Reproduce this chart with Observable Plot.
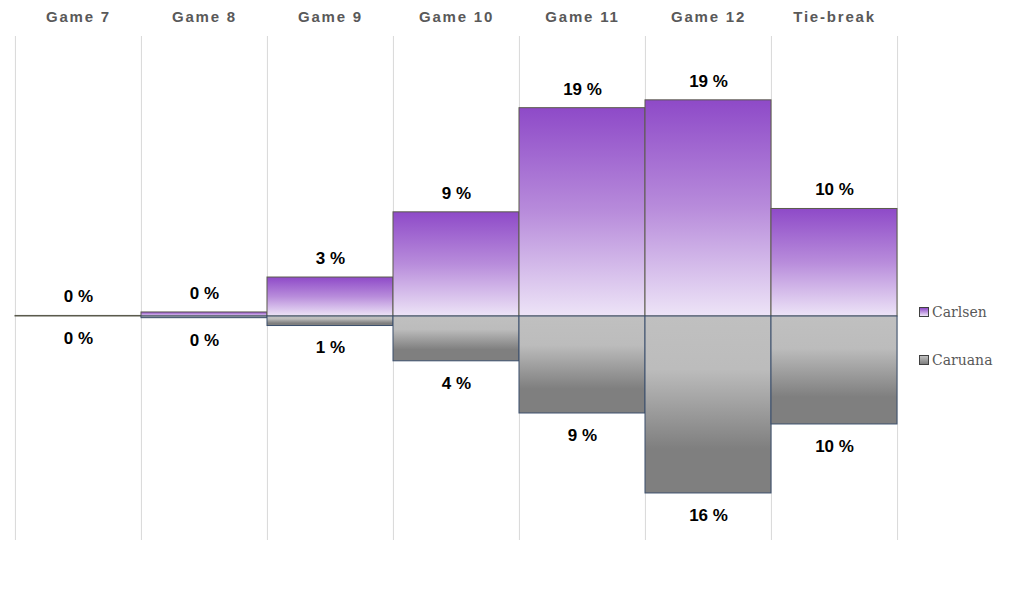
<!DOCTYPE html>
<html>
<head>
<meta charset="utf-8">
<script src="https://cdn.jsdelivr.net/npm/d3@7"></script>
<script src="https://cdn.jsdelivr.net/npm/@observablehq/plot@0.6"></script>
<style>
  html, body { margin: 0; padding: 0; background: #fff; }
  #wrap { position: relative; width: 1013px; height: 600px; }
  .legend { position: absolute; left: 919px; font-family: "DejaVu Serif", "Liberation Serif", serif; font-size: 14px; color: #595959; display: flex; align-items: center; }
  .legend .sw { width: 8px; height: 8px; margin-right: 3px; border: 1px solid #404040; }
</style>
</head>
<body>
<div id="wrap"></div>
<script>
const games = ["Game 7", "Game 8", "Game 9", "Game 10", "Game 11", "Game 12", "Tie-break"];
const carlsen = [0.05, 0.36, 3.48, 9.3, 18.6, 19.3, 9.6];
const caruana = [0, 0.15, 0.85, 4.0, 8.66, 15.8, 9.64];
const seriesNames = ["Carlsen", "Caruana"];

const data = games.map((g, i) => ({game: g, carlsen: carlsen[i], caruana: -caruana[i]}));

const W = 1013, mL = 14, mR = 116;
const bw = (W - mL - mR) / games.length;

const chart = Plot.plot({
  width: W,
  height: 600,
  marginTop: 36,
  marginBottom: 60,
  marginLeft: mL,
  marginRight: mR,
  style: {background: "#fff", fontFamily: "'Liberation Sans', Arial, sans-serif"},
  x: {domain: games, padding: 0, axis: null},
  y: {domain: [-20, 25], axis: null},
  marks: [
    Plot.ruleX(games, {x: d => d, dx: -bw / 2, y1: -20, y2: 25, stroke: "#d9d9d9", strokeWidth: 1}),
    Plot.ruleX([games[games.length - 1]], {x: d => d, dx: bw / 2, y1: -20, y2: 25, stroke: "#d9d9d9", strokeWidth: 1}),
    Plot.barY(data, {x: "game", y1: 0, y2: "carlsen", fill: "url(#gradPurple)", stroke: "#5a5a4c", strokeWidth: 1}),
    Plot.barY(data, {x: "game", y1: 0, y2: "caruana", fill: "url(#gradGray)", stroke: "#3b4f6c", strokeWidth: 1}),
    Plot.text(games, {x: d => d, frameAnchor: "top", dy: -25, dx: 0, text: d => d, fontSize: 15, fontWeight: "bold", fill: "#595959"}),
    Plot.text(data, {x: "game", y: "carlsen", dy: -19, text: d => Math.round(d.carlsen) + " %", fontSize: 17, fontWeight: "bold", fill: "#000"}),
    Plot.text(data, {x: "game", y: "caruana", dy: 22, text: d => Math.round(-d.caruana) + " %", fontSize: 17, fontWeight: "bold", fill: "#000"})
  ]
});

const defs = d3.select(chart).insert("defs", ":first-child");
const gp = defs.append("linearGradient").attr("id", "gradPurple").attr("x1", 0).attr("y1", 0).attr("x2", 0).attr("y2", 1);
gp.append("stop").attr("offset", "0%").attr("stop-color", "#8e4ac8");
gp.append("stop").attr("offset", "50%").attr("stop-color", "#b88cdb");
gp.append("stop").attr("offset", "100%").attr("stop-color", "#ede4f7");
const gg = defs.append("linearGradient").attr("id", "gradGray").attr("x1", 0).attr("y1", 0).attr("x2", 0).attr("y2", 1);
gg.append("stop").attr("offset", "0%").attr("stop-color", "#c0c0c0");
gg.append("stop").attr("offset", "30%").attr("stop-color", "#bcbcbc");
gg.append("stop").attr("offset", "75%").attr("stop-color", "#7f7f7f");
gg.append("stop").attr("offset", "100%").attr("stop-color", "#7f7f7f");

d3.select(chart).selectAll("text")
  .filter(function () { return games.includes(this.textContent); })
  .attr("letter-spacing", "1.8px")
  .style("letter-spacing", "1.8px");

const wrap = document.getElementById("wrap");
wrap.appendChild(chart);

const legendTops = [304, 352];
const swatchFill = ["linear-gradient(#8e4ac8, #ede4f7)", "linear-gradient(#c0c0c0, #7f7f7f)"];
seriesNames.forEach((name, i) => {
  const item = document.createElement("div");
  item.className = "legend";
  item.style.top = legendTops[i] + "px";
  const sw = document.createElement("span");
  sw.className = "sw";
  sw.style.background = swatchFill[i];
  item.appendChild(sw);
  const t = document.createElement("span");
  t.textContent = name;
  item.appendChild(t);
  wrap.appendChild(item);
});
</script>
</body>
</html>
